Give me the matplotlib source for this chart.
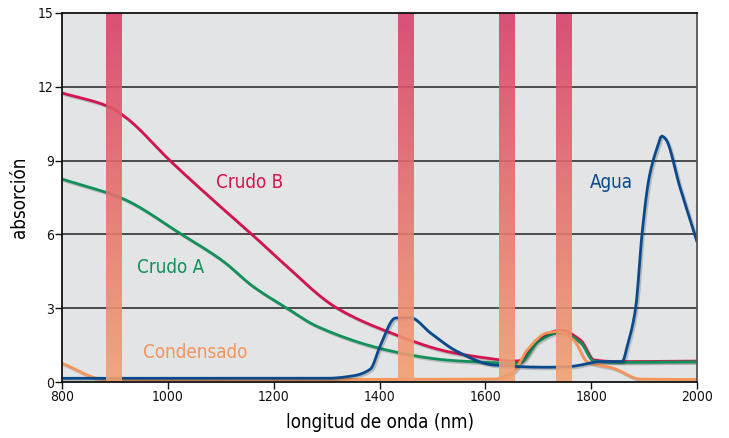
import numpy as np
import matplotlib
matplotlib.use("Agg")
import matplotlib.pyplot as plt
import matplotlib.patheffects as pe
from matplotlib.colors import LinearSegmentedColormap

plt.rcParams["font.family"] = ["DejaVu Sans"]
plt.rcParams["font.stretch"] = "condensed"

# values
crudo_b_x = [800, 891, 922, 1004, 1080, 1159, 1212, 1320, 1421, 1528, 1600, 1653, 1666,
             1700, 1742, 1780, 1805, 1850, 2000]
crudo_b_y = [11.75, 11.17, 10.73, 9.0, 7.5, 6.0, 4.95, 3.0, 2.0, 1.24, 0.98, 0.85, 0.87,
             1.75, 2.1, 1.7, 0.9, 0.83, 0.85]

crudo_a_x = [800, 913, 1026, 1105, 1160, 1225, 1282, 1426, 1528, 1600, 1653, 1666,
             1700, 1742, 1780, 1805, 1850, 2000]
crudo_a_y = [8.25, 7.47, 6.0, 4.9, 3.9, 3.0, 2.26, 1.24, 0.89, 0.8, 0.75, 0.78,
             1.65, 2.02, 1.6, 0.85, 0.8, 0.82]

agua_x = [800, 1300, 1350, 1383, 1401, 1430, 1458, 1496, 1547, 1616, 1717, 1761, 1780,
          1818, 1859, 1868, 1884, 1896, 1909, 1918, 1926, 1933, 1940, 1968, 2000]
agua_y = [0.15, 0.15, 0.25, 0.53, 1.45, 2.6, 2.62, 2.0, 1.24, 0.69, 0.6, 0.63, 0.69,
          0.83, 0.83, 1.45, 3.0, 6.0, 8.25, 9.07, 9.6, 10.0, 9.9, 7.9, 5.7]

condensado_x = [800, 882, 1000, 1616, 1653, 1679, 1717, 1739, 1767, 1792, 1842, 1893, 2000]
condensado_y = [0.76, 0.1, 0.1, 0.12, 0.42, 1.3, 2.0, 2.05, 1.7, 0.83, 0.56, 0.12, 0.1]

band_centers = [898, 1450, 1640, 1748]
band_width = 30

yticks = [0, 3, 6, 9, 12, 15]
xticks = [800, 1000, 1200, 1400, 1600, 1800, 2000]


def smooth(xs, ys, n=400):
    # monotone cubic (pchip-like) through the read points
    xs = np.asarray(xs, float)
    ys = np.asarray(ys, float)
    h = np.diff(xs)
    d = np.diff(ys) / h
    m = np.zeros_like(ys)
    m[0], m[-1] = d[0], d[-1]
    for i in range(1, len(xs) - 1):
        if d[i - 1] * d[i] <= 0:
            m[i] = 0
        else:
            w1 = 2 * h[i] + h[i - 1]
            w2 = h[i] + 2 * h[i - 1]
            m[i] = (w1 + w2) / (w1 / d[i - 1] + w2 / d[i])
    xx = np.linspace(xs[0], xs[-1], n)
    idx = np.clip(np.searchsorted(xs, xx) - 1, 0, len(xs) - 2)
    t = (xx - xs[idx]) / h[idx]
    h00 = 2 * t**3 - 3 * t**2 + 1
    h10 = t**3 - 2 * t**2 + t
    h01 = -2 * t**3 + 3 * t**2
    h11 = t**3 - t**2
    yy = h00 * ys[idx] + h10 * h[idx] * m[idx] + h01 * ys[idx + 1] + h11 * h[idx] * m[idx + 1]
    return xx, yy


fig = plt.figure(figsize=(7.29, 4.38), dpi=100)
ax = fig.add_axes([62 / 729, 1 - 382 / 438, 635 / 729, 369 / 438])
ax.set_facecolor("#e2e4e6")

for v in yticks[1:-1]:
    ax.axhline(v, color="#222222", lw=1.1, zorder=1)

shadow = [pe.SimpleLineShadow(offset=(1.2, -1.2), alpha=0.18, shadow_color="k"), pe.Normal()]
series = [
    (crudo_b_x, crudo_b_y, "#d41450"),
    (crudo_a_x, crudo_a_y, "#12905a"),
    (condensado_x, condensado_y, "#f5955a"),
    (agua_x, agua_y, "#0a4a8c"),
]
for xs, ys, col in series:
    xx, yy = smooth(xs, ys)
    ax.plot(xx, yy, color=col, lw=2.0, zorder=3, solid_capstyle="round",
            path_effects=shadow)

cmap = LinearSegmentedColormap.from_list("band", ["#d9406a", "#f2a272"])
grad = np.linspace(0, 1, 256).reshape(-1, 1)
for c in band_centers:
    ax.imshow(grad, cmap=cmap, aspect="auto", alpha=0.9, zorder=4,
              extent=(c - band_width / 2, c + band_width / 2, -0.1, 15),
              origin="upper")
ax.set_xlim(800, 2000)
ax.set_ylim(0, 15)

ax.text(1155, 8.1, "Crudo B", color="#d41450", fontsize=13.5,
        ha="center", va="center", zorder=5)
ax.text(1006, 4.64, "Crudo A", color="#12905a", fontsize=13.5,
        ha="center", va="center", zorder=5)
ax.text(1051, 1.2, "Condensado", color="#f5955a", fontsize=13.5,
        ha="center", va="center", zorder=5)
ax.text(1838, 8.13, "Agua", color="#0a4a8c", fontsize=13.5,
        ha="center", va="center", zorder=5)

ax.set_xticks(xticks)
ax.set_yticks(yticks)
ax.tick_params(axis="both", direction="out", length=5, width=1, labelsize=10,
               colors="#111111", pad=1)
for side in ["left", "bottom", "top"]:
    ax.spines[side].set_color("#111111")
    ax.spines[side].set_linewidth(1.3)
ax.spines["right"].set_color("#555555")
ax.spines["right"].set_linewidth(1.3)
for s in ax.spines.values():
    s.set_zorder(6)

ax.set_ylabel("absorción", fontsize=13.5, labelpad=6)
ax.set_xlabel("longitud de onda (nm)", fontsize=13.5, labelpad=6)

fig.savefig("out.png", dpi=100)
